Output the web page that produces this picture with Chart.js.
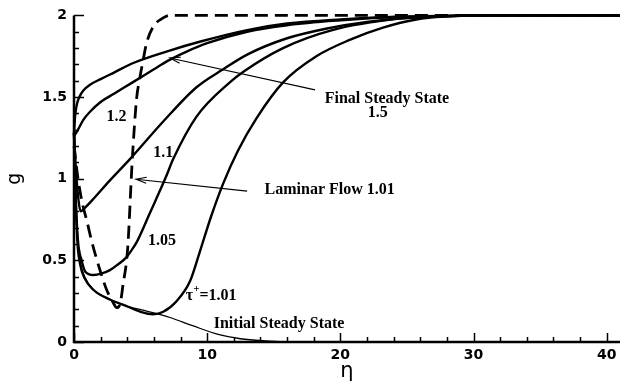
<!DOCTYPE html>
<html>
<head>
<meta charset="utf-8">
<script src="https://cdn.jsdelivr.net/npm/chart.js@4.4.1/dist/chart.umd.min.js"></script>
<style>
  html, body { margin: 0; padding: 0; background: #fff; }
</style>
</head>
<body>
<canvas id="profiles" width="624" height="381"></canvas>
<script>
// velocity profiles g(eta) at several tau+ values
let xTicks = [0, 10, 20, 30, 40]
let yTicks = [0, 0.5, 1, 1.5, 2]

let etaInitial = [0, 0.1, 0.25, 0.45, 0.8, 1.45, 2.7, 3.95, 5.4, 7.2, 8.9, 10.9, 12.5, 14.5, 16, 20]
let gInitial = [1.28, 0.95, 0.65, 0.5, 0.4, 0.32, 0.26, 0.22, 0.19, 0.15, 0.1, 0.045, 0.02, 0.006, 0, 0]

let eta101 = [0, 0.1, 0.25, 0.45, 0.8, 1.45, 2.7, 3.95, 5.0, 5.94, 6.7, 7.7, 8.7, 9.4, 10.3, 11.2, 12.3, 13.7, 15.7, 18.2, 20.7, 23.2, 25.7, 28, 31, 41]
let g101 = [1.28, 0.95, 0.62, 0.48, 0.39, 0.32, 0.26, 0.22, 0.185, 0.17, 0.185, 0.25, 0.37, 0.54, 0.77, 0.97, 1.17, 1.37, 1.59, 1.75, 1.85, 1.925, 1.975, 1.993, 2, 2]

let eta105 = [0, 0.12, 0.3, 0.57, 0.85, 1.45, 2.1, 2.7, 3.3, 3.95, 4.3, 4.7, 5.7, 6.9, 7.45, 9.2, 11.7, 12.8, 15.7, 19.4, 24.4, 28, 32, 41]
let g105 = [1.28, 0.9, 0.62, 0.5, 0.43, 0.41, 0.42, 0.44, 0.475, 0.52, 0.56, 0.61, 0.79, 1.01, 1.12, 1.38, 1.59, 1.66, 1.8, 1.91, 1.98, 1.995, 2, 2]

let eta11 = [0, 0.15, 0.35, 0.5, 0.8, 1.5, 2.7, 4.2, 6.7, 9.2, 11.2, 13, 16, 19, 22, 26, 30, 41]
let g11 = [1.28, 1.05, 0.86, 0.8, 0.82, 0.88, 0.99, 1.12, 1.35, 1.56, 1.67, 1.76, 1.86, 1.92, 1.96, 1.99, 2, 2]

let eta12 = [0, 0.3, 0.7, 1.2, 2, 3, 4.4, 6, 7, 8.5, 10, 13, 16, 20, 24, 28, 32, 41]
let g12 = [1.26, 1.3, 1.36, 1.41, 1.47, 1.52, 1.59, 1.67, 1.72, 1.78, 1.83, 1.9, 1.94, 1.97, 1.99, 1.997, 2, 2]

let eta15 = [0, 0.08, 0.2, 0.4, 0.7, 1.2, 2, 3, 4.5, 7, 9.5, 13, 16, 20, 24, 28, 32, 41]
let g15 = [1.28, 1.38, 1.45, 1.5, 1.54, 1.575, 1.61, 1.65, 1.71, 1.78, 1.84, 1.91, 1.95, 1.975, 1.99, 1.997, 2, 2]

let etaLaminar = [0, 0.3, 0.6, 1.0, 1.32, 1.95, 2.45, 2.95, 3.2, 3.45, 3.7, 3.95, 4.07, 4.3, 4.4, 4.7, 4.95, 5.2, 5.45, 5.94, 6.6, 7.2, 41]
let gLaminar = [1.2, 1.0, 0.86, 0.73, 0.62, 0.44, 0.32, 0.24, 0.21, 0.23, 0.36, 0.5, 0.62, 1.0, 1.15, 1.49, 1.62, 1.73, 1.83, 1.93, 1.98, 2, 2]

function toPoints(xs, ys) {
    return xs.map((x, i) => ({ x: x, y: ys[i] }))
}

function curve(xs, ys, width, dash) {
    return {
        data: toPoints(xs, ys),
        borderColor: '#000',
        borderWidth: width,
        borderDash: dash || [],
        pointRadius: 0,
        cubicInterpolationMode: 'monotone',
        fill: false,
        clip: 4
    }
}

let labelFont = 'bold 16px "Liberation Serif", "Times New Roman", serif'

// text labels and arrows, placed in data units
let notes = [
    { text: 'Final Steady State', x: 23.5, y: 1.49 },
    { text: '1.5', x: 22.8, y: 1.405 },
    { text: 'Laminar Flow 1.01', x: 19.2, y: 0.93 },
    { text: '1.2', x: 3.2, y: 1.38 },
    { text: '1.1', x: 6.7, y: 1.16 },
    { text: '1.05', x: 6.6, y: 0.62 },
    { text: 'Initial Steady State', x: 15.4, y: 0.11 }
]
let arrows = [
    { from: [18.1, 1.544], to: [7.2, 1.739] },
    { from: [13.0, 0.924], to: [4.65, 0.997] }
]

let frame = {
    id: 'frame',
    afterDatasetsDraw(chart) {
        let ctx = chart.ctx
        let xs = chart.scales.x
        let ys = chart.scales.y
        let a = chart.chartArea
        ctx.save()
        ctx.strokeStyle = '#000'
        ctx.fillStyle = '#000'

        // axis lines
        ctx.lineWidth = 2.5
        ctx.beginPath()
        ctx.moveTo(a.left, a.top)
        ctx.lineTo(a.left, a.bottom)
        ctx.lineTo(a.right, a.bottom)
        ctx.stroke()

        // inward ticks, major and minor
        ctx.lineWidth = 1.5
        ctx.beginPath()
        for (let v = 0; v <= 41; v += 2) {
            let px = Math.round(xs.getPixelForValue(v)) + 0.5
            let len = v % 10 === 0 ? 9 : 5
            ctx.moveTo(px, a.bottom)
            ctx.lineTo(px, a.bottom - len)
        }
        for (let i = 0; i <= 20; i++) {
            let py = Math.round(ys.getPixelForValue(i / 10)) + 0.5
            let len = i % 5 === 0 ? 10 : 5
            ctx.moveTo(a.left, py)
            ctx.lineTo(a.left + len, py)
        }
        ctx.stroke()

        // arrows
        ctx.lineWidth = 1.1
        arrows.forEach(ar => {
            let x1 = xs.getPixelForValue(ar.from[0]), y1 = ys.getPixelForValue(ar.from[1])
            let x2 = xs.getPixelForValue(ar.to[0]), y2 = ys.getPixelForValue(ar.to[1])
            let ang = Math.atan2(y2 - y1, x2 - x1)
            ctx.beginPath()
            ctx.moveTo(x1, y1)
            ctx.lineTo(x2, y2)
            ctx.moveTo(x2 - 11 * Math.cos(ang - 0.28), y2 - 11 * Math.sin(ang - 0.28))
            ctx.lineTo(x2, y2)
            ctx.lineTo(x2 - 11 * Math.cos(ang + 0.28), y2 - 11 * Math.sin(ang + 0.28))
            ctx.stroke()
        })

        // labels
        ctx.font = labelFont
        ctx.textAlign = 'center'
        ctx.textBaseline = 'middle'
        notes.forEach(n => {
            ctx.fillText(n.text, xs.getPixelForValue(n.x), ys.getPixelForValue(n.y))
        })

        // tau+ = 1.01
        let tx = xs.getPixelForValue(8.4)
        let ty = ys.getPixelForValue(0.28)
        ctx.textAlign = 'left'
        ctx.fillText('\u03c4', tx, ty)
        tx += ctx.measureText('\u03c4').width
        ctx.font = 'bold 11px "Liberation Serif", serif'
        ctx.fillText('+', tx, ty - 7)
        tx += ctx.measureText('+').width
        ctx.font = labelFont
        ctx.fillText('=1.01', tx, ty)

        ctx.restore()
    }
}

let tickFont = { family: '"DejaVu Sans", Arial, sans-serif', size: 14, weight: 'bold' }

let chart = new Chart(document.querySelector('#profiles'), {
    type: 'line',
    data: {
        datasets: [
            curve(etaInitial, gInitial, 1.3),
            curve(eta101, g101, 2.4),
            curve(eta105, g105, 2.4),
            curve(eta11, g11, 2.4),
            curve(eta12, g12, 2.4),
            curve(eta15, g15, 2.4),
            curve(etaLaminar, gLaminar, 2.8, [13, 7])
        ]
    },
    options: {
        responsive: false,
        animation: false,
        layout: { padding: { left: 0, right: 4, top: 13, bottom: 0 } },
        plugins: { legend: { display: false }, tooltip: { enabled: false } },
        scales: {
            x: {
                type: 'linear',
                min: 0,
                max: 41,
                grid: { display: false, drawTicks: false },
                border: { display: false },
                ticks: { color: '#000', font: tickFont, padding: 5, maxRotation: 0 },
                afterBuildTicks: s => { s.ticks = xTicks.map(v => ({ value: v })) },
                afterFit: s => { s.height = 39 },
                title: {
                    display: true,
                    text: '\u03b7',
                    color: '#000',
                    font: { family: '"DejaVu Sans", sans-serif', size: 21 },
                    padding: { top: 0, bottom: -3 }
                }
            },
            y: {
                min: 0,
                max: 2,
                grid: { display: false, drawTicks: false },
                border: { display: false },
                ticks: { color: '#000', font: tickFont, padding: 7, callback: v => String(v) },
                afterBuildTicks: s => { s.ticks = yTicks.map(v => ({ value: v })) },
                afterFit: s => { s.width = 74 },
                title: {
                    display: true,
                    text: 'g',
                    color: '#000',
                    font: { family: '"DejaVu Sans", sans-serif', size: 19 },
                    padding: { top: 4, bottom: 0 }
                }
            }
        }
    },
    plugins: [frame]
})
</script>
</body>
</html>
